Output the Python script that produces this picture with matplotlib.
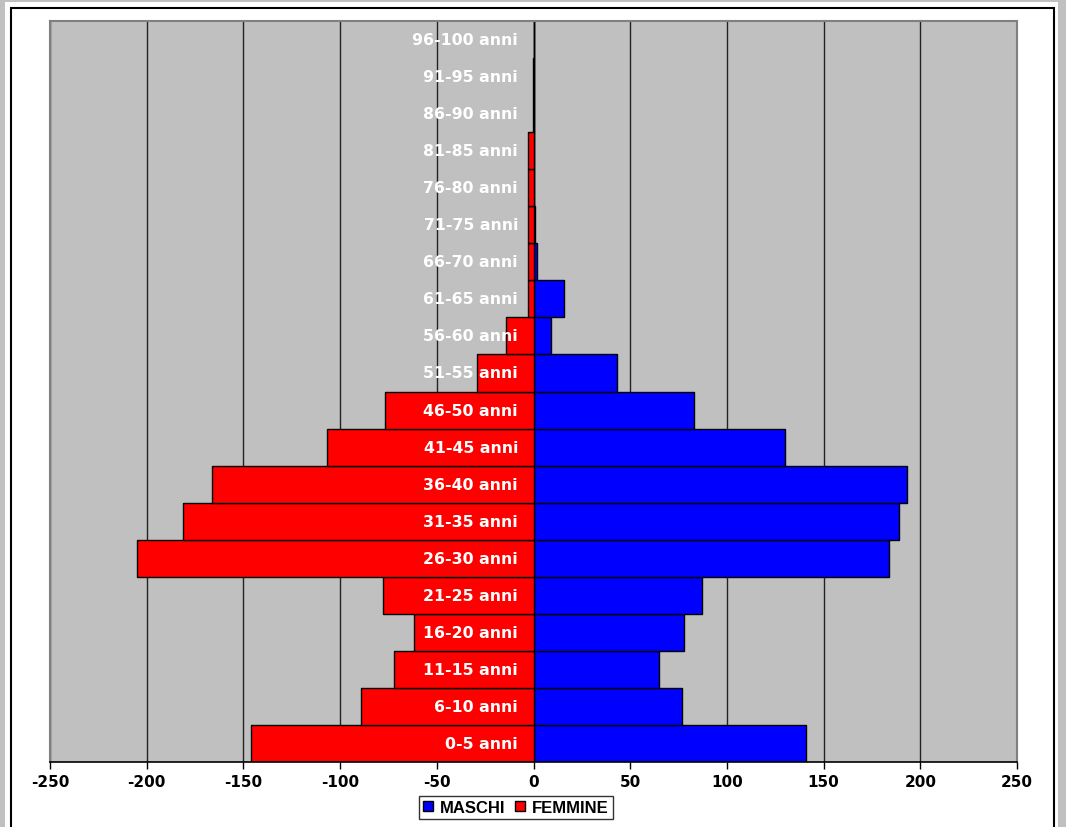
import matplotlib
matplotlib.use("Agg")
import matplotlib.pyplot as plt
from matplotlib.patches import Rectangle, Patch

plt.rcParams['font.family'] = ['Liberation Sans', 'DejaVu Sans']

classi = ['0-5 anni', '6-10 anni', '11-15 anni', '16-20 anni', '21-25 anni',
          '26-30 anni', '31-35 anni', '36-40 anni', '41-45 anni', '46-50 anni',
          '51-55 anni', '56-60 anni', '61-65 anni', '66-70 anni', '71-75 anni',
          '76-80 anni', '81-85 anni', '86-90 anni', '91-95 anni', '96-100 anni']
maschi = [141, 77, 65, 78, 87, 184, 189, 193, 130, 83,
          43, 9, 16, 2, 1, 0, 0, 0, 0, 0]
femmine = [-146, -89, -72, -62, -78, -205, -181, -166, -107, -77,
           -29, -14, -3, -3, -3, -3, -3, -0.5, -0.5, 0]
xticks = [-250, -200, -150, -100, -50, 0, 50, 100, 150, 200, 250]

W, H = 1066, 828
fig = plt.figure(figsize=(W / 100, H / 100), dpi=100)
fig.patch.set_facecolor('#C0C0C0')
fig.patches.append(Rectangle((5 / W, 0), 1053 / W, 1 - 3 / H, transform=fig.transFigure,
                             facecolor='white', edgecolor='none', zorder=-10))
fig.patches.append(Rectangle((11 / W, -0.01), 1043 / W, 1 - 9 / H + 0.01, transform=fig.transFigure,
                             facecolor='none', edgecolor='black', linewidth=1.5, zorder=-5))

ax = fig.add_axes([50 / W, 65 / H, 967 / W, 741 / H])
ax.set_facecolor('#C0C0C0')

y = list(range(len(classi)))
ax.barh(y, maschi, height=1.0, color='#0000FF', edgecolor='black', linewidth=1, label='MASCHI')
ax.barh(y, femmine, height=1.0, color='#FF0000', edgecolor='black', linewidth=1, label='FEMMINE')

for yi, lab in zip(y, classi):
    ax.text(-8, yi, lab, ha='right', va='center', color='white',
            fontweight='bold', fontsize=11.3, family='DejaVu Sans')

ax.set_xlim(-250, 250)
ax.set_ylim(-0.5, len(classi) - 0.5)
ax.set_xticks(xticks)
ax.set_xticklabels([str(v) for v in xticks], fontweight='bold', fontsize=11,
                   family='DejaVu Sans')
ax.set_yticks([])
ax.tick_params(axis='x', direction='out', length=5, width=1, pad=4)
ax.set_axisbelow(True)
ax.grid(axis='x', color='#222222', linewidth=1)

for s in ['top', 'left', 'right']:
    ax.spines[s].set_color('#808080')
    ax.spines[s].set_linewidth(1.5)
ax.spines['bottom'].set_color('black')
ax.spines['bottom'].set_linewidth(1.2)

handles = [Patch(facecolor='#0000FF', edgecolor='black', label='MASCHI'),
           Patch(facecolor='#FF0000', edgecolor='black', label='FEMMINE')]
leg = fig.legend(handles=handles, loc='center', bbox_to_anchor=(516 / W, 1 - 808.5 / H),
                 ncol=2, frameon=True, fancybox=False, handlelength=0.6, handleheight=0.6,
                 handletextpad=0.4, columnspacing=0.6, borderpad=0.25,
                 prop={'weight': 'bold', 'size': 12})
leg.get_frame().set_edgecolor('black')
leg.get_frame().set_linewidth(1)

fig.savefig('out.png', dpi=100, facecolor=fig.get_facecolor())
